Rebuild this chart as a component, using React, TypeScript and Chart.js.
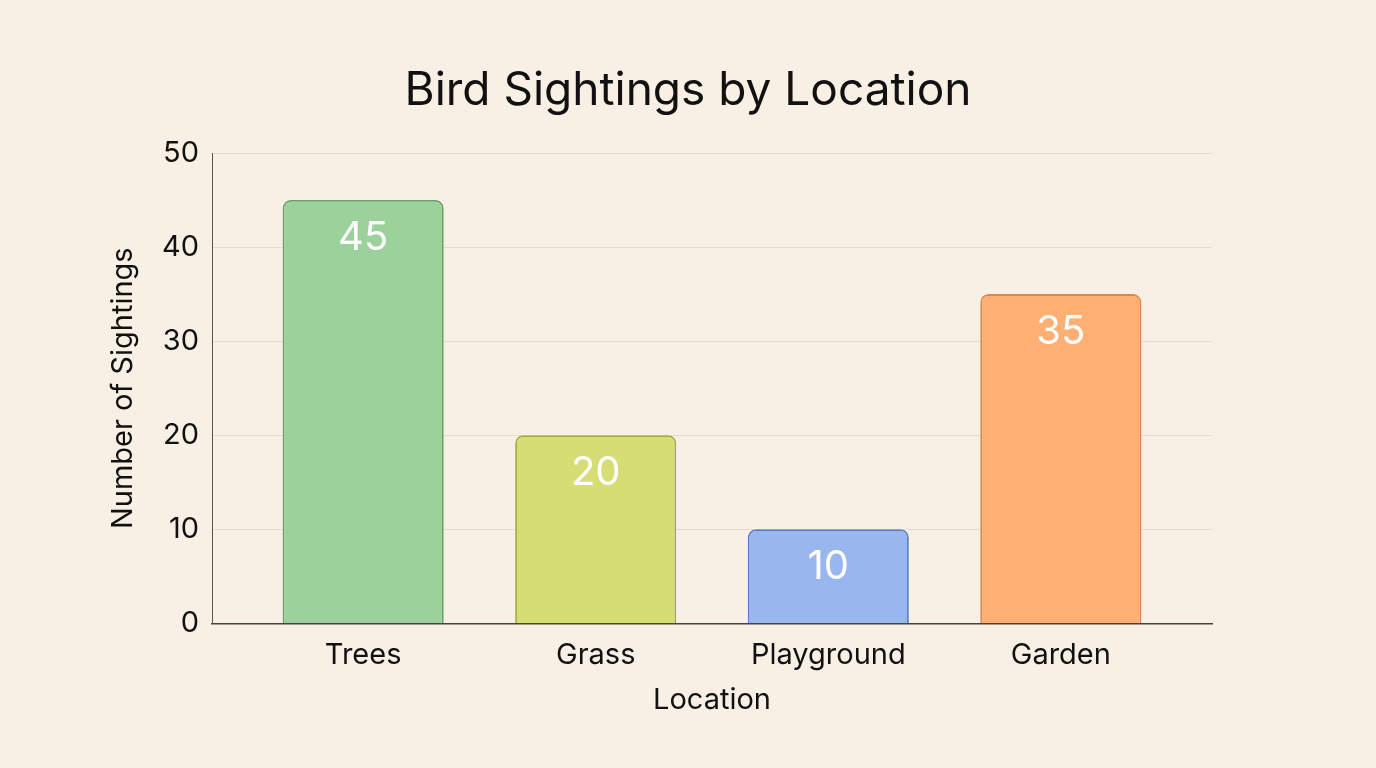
import { useEffect, useRef } from "react";
import Chart from "chart.js/auto";

const locations = ["Trees", "Grass", "Playground", "Garden"];
const sightings = [45, 20, 10, 35];
const fillColors = ["#9bd29c", "#d5dd74", "#99b7ef", "#feb074"];
const borderColors = ["#6a9f6c", "#a3ab42", "#5b7cc2", "#dc864c"];

const FONT = "Inter, 'Noto Sans', sans-serif";
const TITLE = "Bird Sightings by Location";

// value text inside each bar + the centred title
const extras = {
  id: "extras",
  afterDatasetsDraw(chart: any) {
    const ctx = chart.ctx;
    const meta = chart.getDatasetMeta(0);
    ctx.save();
    ctx.fillStyle = "#ffffff";
    ctx.font = `40px ${FONT}`;
    ctx.textAlign = "center";
    ctx.textBaseline = "middle";
    meta.data.forEach((bar: any, i: number) => {
      ctx.fillText(String(sightings[i]), bar.x, bar.y + 38);
    });
    ctx.fillStyle = "#111111";
    ctx.font = `46px ${FONT}`;
    ctx.fillText(TITLE, chart.width / 2, 91);
    ctx.restore();
  }
};

export default function App() {
  const canvasRef = useRef<HTMLCanvasElement | null>(null);

  useEffect(() => {
    if (!canvasRef.current) return;
    const chart = new Chart(canvasRef.current, {
      type: "bar",
      data: {
        datasets: [
          {
            data: sightings.map((v, i) => ({ x: i, y: v })),
            backgroundColor: fillColors,
            borderColor: borderColors,
            borderWidth: 1.8,
            borderRadius: 8,
            categoryPercentage: 0.8,
            barPercentage: 0.866
          }
        ]
      },
      options: {
        animation: false,
        responsive: false,
        layout: { padding: { left: 102, right: 164, top: 153, bottom: 46 } },
        plugins: {
          legend: { display: false },
          tooltip: { enabled: false },
          title: { display: false }
        },
        scales: {
          x: {
            type: "linear",
            min: -0.65,
            max: 3.65,
            offset: false,
            afterBuildTicks: (scale: any) => {
              scale.ticks = locations.map((_, i) => ({ value: i }));
            },
            grid: { display: false },
            border: { color: "#444444", width: 1.5 },
            ticks: {
              color: "#111111",
              font: { family: FONT, size: 29 },
              padding: 6,
              maxRotation: 0,
              callback: (v: any) => locations[v] ?? ""
            },
            title: {
              display: true,
              text: "Location",
              color: "#111111",
              font: { family: FONT, size: 29 },
              padding: { top: 5 }
            }
          },
          y: {
            min: 0,
            max: 50,
            afterFit: (scale: any) => {
              scale.width = 110;
            },
            ticks: { stepSize: 10, color: "#111111", font: { family: FONT, size: 29 }, padding: 13 },
            grid: { color: "#e2dbd0", drawTicks: false },
            border: { color: "#555555", width: 1 },
            title: {
              display: true,
              text: "Number of Sightings",
              color: "#111111",
              font: { family: FONT, size: 29 },
              padding: { top: 4, bottom: 4 }
            }
          }
        }
      },
      plugins: [extras]
    });
    return () => chart.destroy();
  }, []);

  return (
    <div style={{ position: "fixed", left: 0, top: 0, width: 1376, height: 768, background: "#f8f0e4" }}>
      <canvas ref={canvasRef} width={1376} height={768} style={{ width: 1376, height: 768 }} />
    </div>
  );
}
